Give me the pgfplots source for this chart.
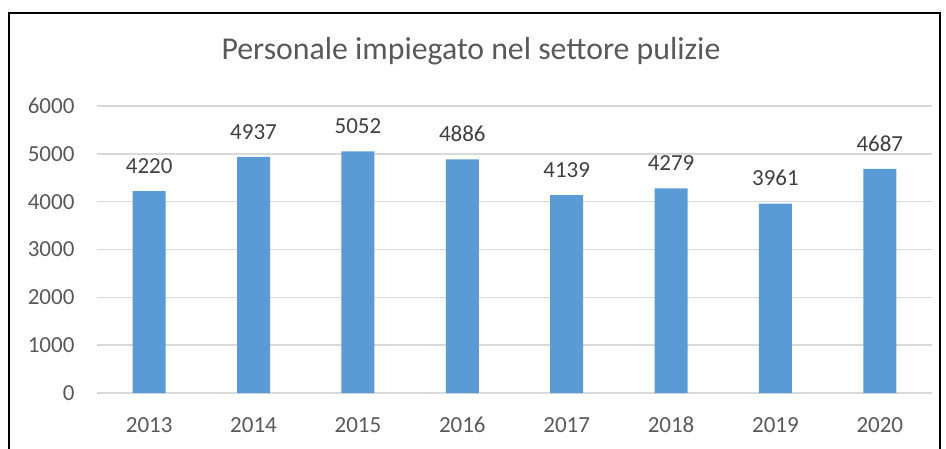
\documentclass[border=0pt]{standalone}
\usepackage{pgfplots}
\pgfplotsset{compat=1.18}
\usepackage{fontspec}
\setmainfont{Carlito}
\definecolor{barblue}{HTML}{5B9BD5}
\definecolor{gridgray}{HTML}{D9D9D9}
\definecolor{txtgray}{HTML}{595959}
\definecolor{lblgray}{HTML}{404040}

\begin{document}
\begin{tikzpicture}[x=1pt,y=1pt]
\useasboundingbox (0,0) rectangle (946,448);
\draw[line width=1.5pt,black] (9,-5) -- (9,435) -- (940,435) -- (940,-5);
\node[font=\fontsize{31.8}{36}\selectfont,text=txtgray] at (471,397) {Personale impiegato nel settore pulizie};
\begin{axis}[at={(97pt,55pt)},anchor=south west,scale only axis,
width=835pt,height=287pt,
ybar,bar width=33pt,
xmin=-0.5,xmax=7.5,ymin=0,ymax=6000,
xtick={0,...,7},xticklabels={2013,2014,2015,2016,2017,2018,2019,2020},
ytick={0,1000,...,6000},
axis line style={draw=none},
tick style={draw=none},
ymajorgrids,grid style={gridgray,line width=1.5pt},
ticklabel style={font=\fontsize{23}{27}\selectfont,text=txtgray},
/pgf/number format/assume math mode=true,
/pgf/number format/set thousands separator={},
yticklabel style={xshift=-19pt},
xticklabel style={anchor=base,yshift=-35pt},
nodes near coords,point meta=explicit symbolic,
every node near coord/.append style={font=\fontsize{23}{27}\selectfont,text=lblgray,yshift=14pt},
]
\addplot[fill=barblue,draw=none] coordinates {(0,4220)[4220] (1,4937)[4937] (2,5052)[5052] (3,4886)[4886]
(4,4139)[4139] (5,4279)[4279] (6,3961)[3961] (7,4687)[4687]};
\end{axis}
\end{tikzpicture}
\end{document}
